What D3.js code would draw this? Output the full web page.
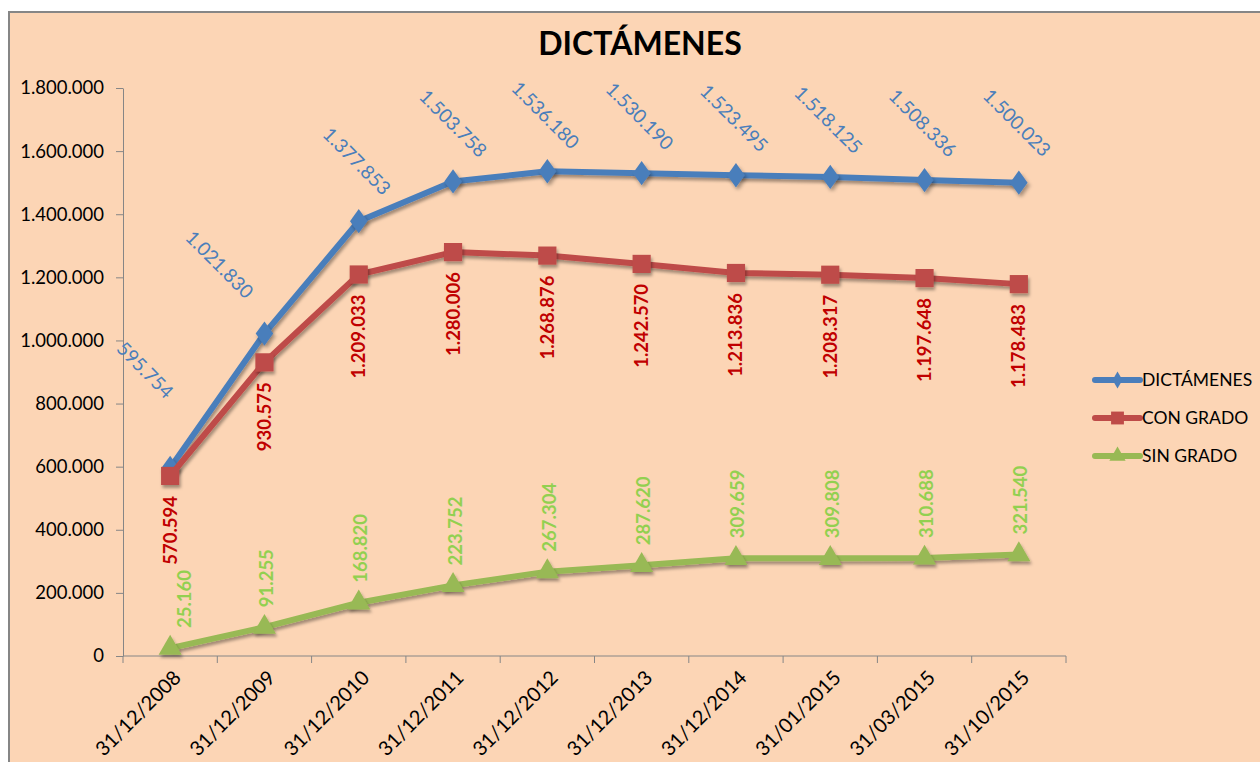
<!DOCTYPE html>
<html>
<head>
<meta charset="utf-8">
<script src="https://cdn.jsdelivr.net/npm/d3@7"></script>
<style>
  body { margin: 0; background: #fff; }
  text { font-family: Lato, "Open Sans", sans-serif; }
</style>
</head>
<body>
<svg></svg>
<script>
var width = 1260;
var height = 762;

// data
var fechas = ['31/12/2008', '31/12/2009', '31/12/2010', '31/12/2011', '31/12/2012',
  '31/12/2013', '31/12/2014', '31/01/2015', '31/03/2015', '31/10/2015'];
var dictamenes = [595754, 1021830, 1377853, 1503758, 1536180, 1530190, 1523495, 1518125, 1508336, 1500023];
var conGrado = [570594, 930575, 1209033, 1280006, 1268876, 1242570, 1213836, 1208317, 1197648, 1178483];
var sinGrado = [25160, 91255, 168820, 223752, 267304, 287620, 309659, 309808, 310688, 321540];
var yTicks = [0, 200000, 400000, 600000, 800000, 1000000, 1200000, 1400000, 1600000, 1800000];

// label nudges for the blue series (manually moved in the original)
var blueNudge = [[-25, -98], [-45, -69], [-2, -60], [0, -58], [-2, -56], [-2, -57], [-2, -57], [-2, -57], [-2, -57], [-2, -60]];

var es = d3.formatLocale({ decimal: ',', thousands: '.', grouping: [3], currency: ['', ''] });
var fmt = es.format(',');

var svg = d3.select('svg')
  .attr('width', width)
  .attr('height', height);

var defs = svg.append('defs');
defs.append('filter').attr('id', 'sh')
  .attr('x', '-50%').attr('y', '-50%').attr('width', '200%').attr('height', '200%')
  .append('feDropShadow')
  .attr('dx', 1.5).attr('dy', 3).attr('stdDeviation', 1.8)
  .attr('flood-color', '#000').attr('flood-opacity', 0.35);

// chart area
svg.append('rect')
  .attr('x', 9).attr('y', 12)
  .attr('width', width + 20).attr('height', height + 20)
  .attr('fill', '#fcd5b5')
  .attr('stroke', '#868686')
  .attr('stroke-width', 2);

svg.append('text')
  .attr('x', 640).attr('y', 55)
  .attr('text-anchor', 'middle')
  .attr('font-size', 32)
  .attr('font-weight', 'bold')
  .attr('fill', '#000')
  .text('DICTÁMENES');

var x = d3.scaleBand().domain(fechas).range([123, 1066]);
var y = d3.scaleLinear().domain([0, 1800000]).range([656, 88]);
var cx = function(i) { return x(fechas[i]) + x.bandwidth() / 2; };

// y axis
var yAxis = svg.append('g')
  .attr('transform', 'translate(123,0)')
  .call(d3.axisLeft(y).tickValues(yTicks).tickFormat(fmt).tickSize(7).tickSizeOuter(0).tickPadding(12));
yAxis.selectAll('line, path').attr('stroke', '#868686');
yAxis.selectAll('text').attr('font-size', 18.5).attr('fill', '#000')
  .style('font-family', 'Lato, sans-serif');

// x axis with ticks between categories
var xAxis = svg.append('g').attr('transform', 'translate(0,656)');
xAxis.append('line')
  .attr('x1', 123).attr('x2', 1066)
  .attr('stroke', '#868686');
var bounds = fechas.map(function(d) { return x(d); }).concat([x.range()[1]]);
xAxis.selectAll('line.tk').data(bounds).enter().append('line')
  .attr('class', 'tk')
  .attr('x1', function(d) { return d; }).attr('x2', function(d) { return d; })
  .attr('y1', 0).attr('y2', 7)
  .attr('stroke', '#868686');
xAxis.selectAll('text').data(fechas).enter().append('text')
  .attr('transform', function(d, i) { return 'translate(' + (cx(i) + 7) + ',18) rotate(-45)'; })
  .attr('text-anchor', 'end')
  .attr('dy', '0.35em')
  .attr('font-size', 20)
  .attr('fill', '#000')
  .text(function(d) { return d; });

var line = d3.line()
  .x(function(d, i) { return cx(i); })
  .y(function(d) { return y(d); });

var series = [
  { name: 'DICTÁMENES', values: dictamenes, color: '#4a7ebb', symbol: d3.symbolDiamond, size: 170 },
  { name: 'CON GRADO', values: conGrado, color: '#be4b48', symbol: d3.symbolSquare, size: 330 },
  { name: 'SIN GRADO', values: sinGrado, color: '#98b954', symbol: d3.symbolTriangle, size: 230 }
];

series.forEach(function(s) {
  svg.append('path')
    .datum(s.values)
    .attr('d', line)
    .attr('fill', 'none')
    .attr('stroke', s.color)
    .attr('stroke-width', 6)
    .attr('stroke-linejoin', 'round')
    .attr('filter', 'url(#sh)');
  svg.append('g').selectAll('path')
    .data(s.values).enter().append('path')
    .attr('d', d3.symbol().type(s.symbol).size(s.size))
    .attr('transform', function(d, i) {
      var sx = s.symbol === d3.symbolDiamond ? ' scale(1.25,1)' : '';
      return 'translate(' + cx(i) + ',' + y(d) + ')' + sx;
    })
    .attr('fill', s.color)
    .attr('filter', 'url(#sh)');
});

// data labels
svg.append('g').selectAll('text')
  .data(dictamenes).enter().append('text')
  .attr('transform', function(d, i) {
    return 'translate(' + (cx(i) + blueNudge[i][0]) + ',' + (y(d) + blueNudge[i][1]) + ') rotate(45)';
  })
  .attr('text-anchor', 'middle')
  .attr('dy', '0.35em')
  .attr('font-size', 19)
  .attr('fill', '#4a7ebb')
  .text(fmt);

svg.append('g').selectAll('text')
  .data(conGrado).enter().append('text')
  .attr('transform', function(d, i) { return 'translate(' + cx(i) + ',' + (y(d) + 20) + ') rotate(-90)'; })
  .attr('text-anchor', 'end')
  .attr('dy', '0.35em')
  .attr('font-size', 18.5)
  .attr('font-weight', 'bold')
  .attr('fill', '#c00000')
  .text(fmt);

svg.append('g').selectAll('text')
  .data(sinGrado).enter().append('text')
  .attr('transform', function(d, i) {
    var dx = i === 0 ? 14 : 2;
    return 'translate(' + (cx(i) + dx) + ',' + (y(d) - 20) + ') rotate(-90)';
  })
  .attr('text-anchor', 'start')
  .attr('dy', '0.35em')
  .attr('font-size', 18.5)
  .attr('font-weight', 'bold')
  .attr('fill', '#92d050')
  .text(fmt);

// legend
var legend = svg.append('g').attr('transform', 'translate(1095,380)');
series.forEach(function(s, i) {
  var g = legend.append('g').attr('transform', 'translate(0,' + (i * 38) + ')');
  g.append('line')
    .attr('x1', 0).attr('x2', 45)
    .attr('stroke', s.color).attr('stroke-width', 6).attr('stroke-linecap', 'round');
  g.append('path')
    .attr('d', d3.symbol().type(s.symbol).size(s.size * 0.5))
    .attr('transform', 'translate(22.5,0)')
    .attr('fill', s.color);
  g.append('text')
    .attr('x', 47).attr('dy', '0.35em')
    .attr('font-size', 17.5)
    .attr('fill', '#000')
    .text(s.name);
});
</script>
</body>
</html>
